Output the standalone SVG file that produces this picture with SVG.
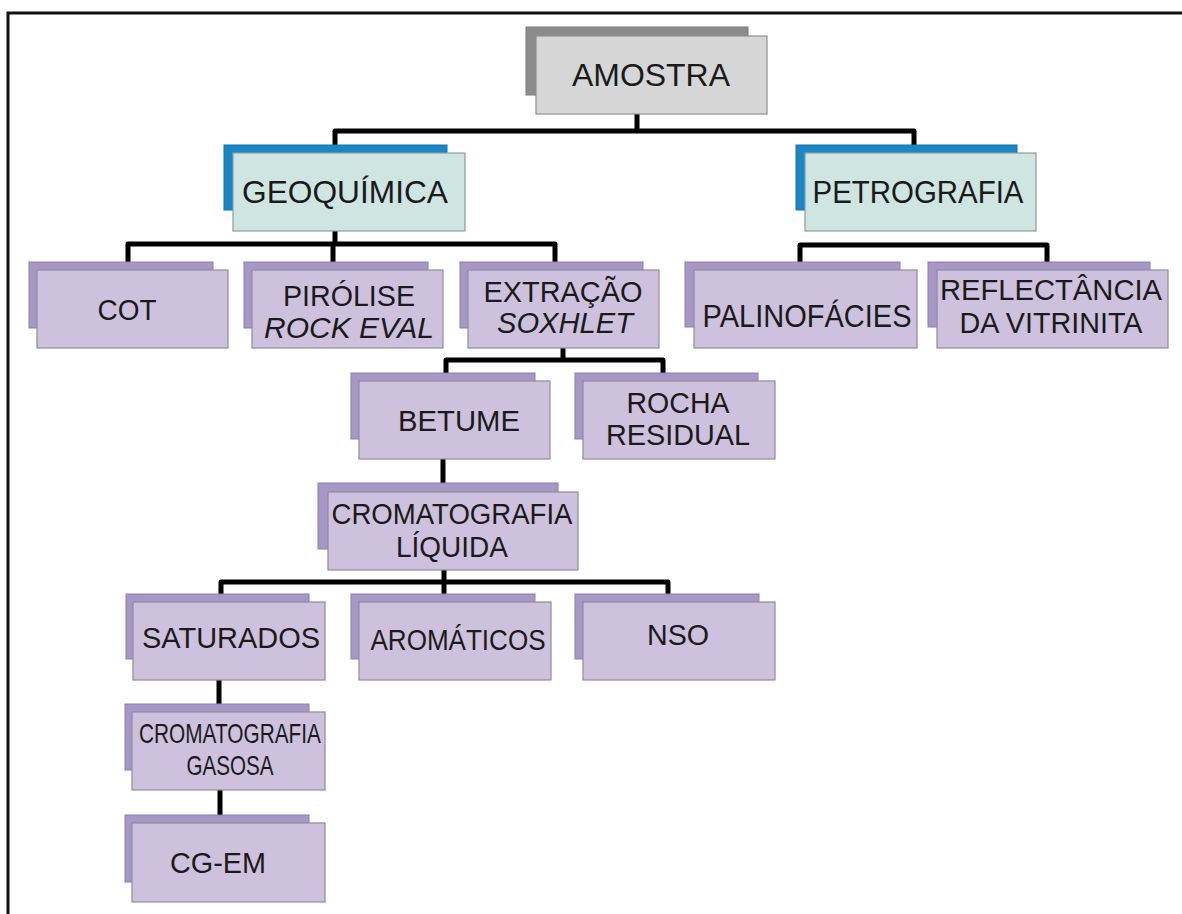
<svg xmlns="http://www.w3.org/2000/svg" width="1182" height="914" viewBox="0 0 1182 914">
  <style>
    .frame { fill: none; stroke: #111; stroke-width: 3; }
    .link { fill: none; stroke: #000; stroke-width: 5; stroke-linejoin: round; }
    .sh-gray { fill: #8c8c8c; stroke: #7a7a7a; stroke-width: 1; }
    .fr-gray { fill: #d6d6d6; stroke: #8f8f8f; stroke-width: 1.2; }
    .sh-blue { fill: #1a86c4; stroke: #1775ab; stroke-width: 1; }
    .fr-teal { fill: #cfe5e2; stroke: #8f9a98; stroke-width: 1.2; }
    .sh-lil { fill: #a797c6; stroke: #8d7fae; stroke-width: 1; }
    .fr-lil { fill: #cdc1de; stroke: #8f8a98; stroke-width: 1.2; }
    text { font-family: "Liberation Sans", Arial, sans-serif; font-size: 30px; fill: #1a1a1a; text-anchor: middle; }
    .big { font-size: 32px; }
    .it { font-style: italic; }
  </style>

  <!-- page frame -->
  <path class="frame" d="M8,914 V13 H1182"/>

  <!-- connectors -->
  <g id="connectors">
    <path class="link" d="M637,114 V131"/>
    <path class="link" d="M335,153 V131 H914 V153"/>
    <path class="link" d="M335,231 V244"/>
    <path class="link" d="M128,262 V244 H555 V270"/>
    <path class="link" d="M333,244 V262"/>
    <path class="link" d="M800,262 V245 H1047 V262"/>
    <path class="link" d="M563,348 V360"/>
    <path class="link" d="M446,373 V360 H663 V373"/>
    <path class="link" d="M443,459 V483"/>
    <path class="link" d="M444,570 V594"/>
    <path class="link" d="M221,595 V582 H668 V594"/>
    <path class="link" d="M219,680 V705"/>
    <path class="link" d="M220,790 V815"/>
  </g>

  <g id="amostra">
    <rect class="sh-gray" x="526" y="27" width="222" height="68"/>
    <rect class="fr-gray" x="536" y="36" width="231" height="78"/>
    <text class="big" x="651" y="86" textLength="158" lengthAdjust="spacingAndGlyphs">AMOSTRA</text>
  </g>

  <g id="geoquimica">
    <rect class="sh-blue" x="224" y="145" width="223" height="65"/>
    <rect class="fr-teal" x="233" y="153" width="232" height="78"/>
    <text class="big" x="345" y="203" textLength="206" lengthAdjust="spacingAndGlyphs">GEOQUÍMICA</text>
  </g>

  <g id="petrografia">
    <rect class="sh-blue" x="796" y="145" width="221" height="65"/>
    <rect class="fr-teal" x="805" y="153" width="231" height="78"/>
    <text class="big" x="918" y="203" textLength="211" lengthAdjust="spacingAndGlyphs">PETROGRAFIA</text>
  </g>

  <g id="cot">
    <rect class="sh-lil" x="29" y="262" width="184" height="66"/>
    <rect class="fr-lil" x="37" y="270" width="191" height="78"/>
    <text x="127" y="320" textLength="59" lengthAdjust="spacingAndGlyphs">COT</text>
  </g>

  <g id="pirolise">
    <rect class="sh-lil" x="244" y="262" width="184" height="66"/>
    <rect class="fr-lil" x="252" y="270" width="191" height="78"/>
    <text x="349" y="306" textLength="132" lengthAdjust="spacingAndGlyphs">PIRÓLISE</text>
    <text class="it" x="349" y="338" textLength="170" lengthAdjust="spacingAndGlyphs">ROCK EVAL</text>
  </g>

  <g id="extracao">
    <rect class="sh-lil" x="460" y="262" width="183" height="66"/>
    <rect class="fr-lil" x="468" y="270" width="191" height="78"/>
    <text x="563" y="302" textLength="159" lengthAdjust="spacingAndGlyphs">EXTRAÇÃO</text>
    <text class="it" x="565" y="333" textLength="136" lengthAdjust="spacingAndGlyphs">SOXHLET</text>
  </g>

  <g id="palinofacies">
    <rect class="sh-lil" x="685" y="262" width="215" height="65"/>
    <rect class="fr-lil" x="694" y="270" width="223" height="78"/>
    <text class="big" x="807" y="327" textLength="209" lengthAdjust="spacingAndGlyphs">PALINOFÁCIES</text>
  </g>

  <g id="reflectancia">
    <rect class="sh-lil" x="928" y="262" width="222" height="65"/>
    <rect class="fr-lil" x="937" y="270" width="231" height="78"/>
    <text x="1051" y="300" textLength="222" lengthAdjust="spacingAndGlyphs">REFLECTÂNCIA</text>
    <text x="1051" y="333" textLength="183" lengthAdjust="spacingAndGlyphs">DA VITRINITA</text>
  </g>

  <g id="betume">
    <rect class="sh-lil" x="351" y="373" width="184" height="66"/>
    <rect class="fr-lil" x="359" y="381" width="191" height="78"/>
    <text x="459" y="431" textLength="122" lengthAdjust="spacingAndGlyphs">BETUME</text>
  </g>

  <g id="rocha-residual">
    <rect class="sh-lil" x="575" y="373" width="183" height="66"/>
    <rect class="fr-lil" x="583" y="381" width="192" height="78"/>
    <text x="678" y="413" textLength="103" lengthAdjust="spacingAndGlyphs">ROCHA</text>
    <text x="678" y="445" textLength="144" lengthAdjust="spacingAndGlyphs">RESIDUAL</text>
  </g>

  <g id="cromatografia-liquida">
    <rect class="sh-lil" x="318" y="483" width="240" height="66"/>
    <rect class="fr-lil" x="328" y="492" width="250" height="78"/>
    <text x="452" y="524" textLength="241" lengthAdjust="spacingAndGlyphs">CROMATOGRAFIA</text>
    <text x="452" y="557" textLength="112" lengthAdjust="spacingAndGlyphs">LÍQUIDA</text>
  </g>

  <g id="saturados">
    <rect class="sh-lil" x="126" y="594" width="183" height="65"/>
    <rect class="fr-lil" x="133" y="602" width="192" height="78"/>
    <text x="231" y="648" textLength="178" lengthAdjust="spacingAndGlyphs">SATURADOS</text>
  </g>

  <g id="aromaticos">
    <rect class="sh-lil" x="351" y="594" width="184" height="65"/>
    <rect class="fr-lil" x="359" y="602" width="192" height="78"/>
    <text x="458" y="650" textLength="175" lengthAdjust="spacingAndGlyphs">AROMÁTICOS</text>
  </g>

  <g id="nso">
    <rect class="sh-lil" x="575" y="594" width="184" height="65"/>
    <rect class="fr-lil" x="583" y="602" width="192" height="78"/>
    <text x="678" y="645" textLength="62" lengthAdjust="spacingAndGlyphs">NSO</text>
  </g>

  <g id="cromatografia-gasosa">
    <rect class="sh-lil" x="125" y="704" width="184" height="66"/>
    <rect class="fr-lil" x="132" y="712" width="193" height="78"/>
    <text x="230" y="743" style="font-size:28px" textLength="182" lengthAdjust="spacingAndGlyphs">CROMATOGRAFIA</text>
    <text x="230" y="775" style="font-size:28px" textLength="87" lengthAdjust="spacingAndGlyphs">GASOSA</text>
  </g>

  <g id="cg-em">
    <rect class="sh-lil" x="125" y="815" width="184" height="67"/>
    <rect class="fr-lil" x="132" y="823" width="193" height="79"/>
    <text x="218" y="873" textLength="96" lengthAdjust="spacingAndGlyphs">CG-EM</text>
  </g>
</svg>
